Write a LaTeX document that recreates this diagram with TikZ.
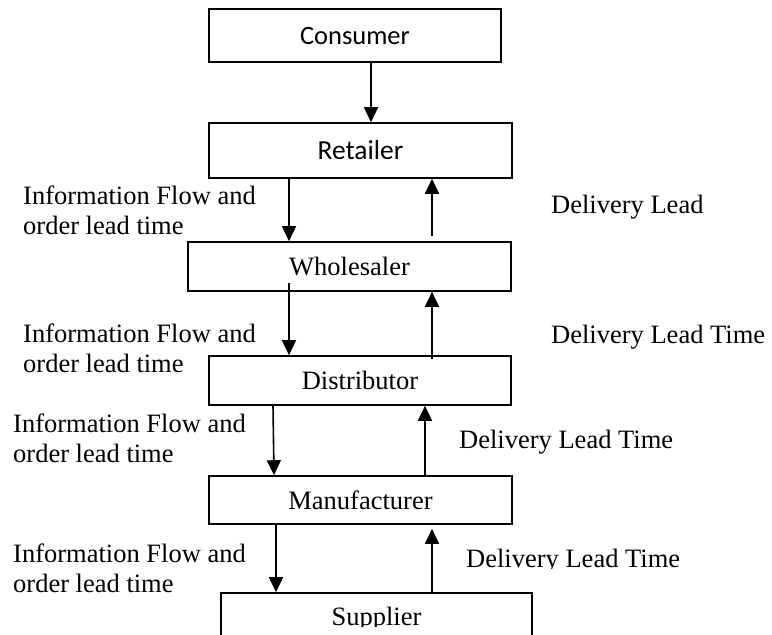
\documentclass[tikz,border=0pt]{standalone}
\usepackage{fontspec}
\setmainfont{Liberation Serif}
\newfontfamily\calibrifont{Carlito}
\usetikzlibrary{arrows.meta}

\begin{document}
\begin{tikzpicture}[x=1pt,y=-1pt,
  stage/.style={draw, line width=1.6pt, rectangle, inner sep=0pt,
    font=\fontsize{26.5}{30}\selectfont},
  flow/.style={line width=1.6pt, -{Triangle[width=14pt,length=15pt]}},
  note/.style={anchor=base west, inner sep=0pt, align=left,
    font=\fontsize{26.5}{29.5}\selectfont}]
\useasboundingbox (0,0) rectangle (772,635);

% supply chain stages
\node[stage, minimum width=292pt, minimum height=53pt,
      font=\calibrifont\fontsize{26.5}{30}\selectfont] (consumer) at (355,35.5) {Consumer};
\node[stage, minimum width=303pt, minimum height=55pt,
      font=\calibrifont\fontsize{27.5}{30}\selectfont] (retailer) at (360.5,150.5) {Retailer};
\node[stage, minimum width=323pt, minimum height=49pt] (wholesaler) at (349.5,266.5) {Wholesaler};
\node[stage, minimum width=302pt, minimum height=49pt] (distributor) at (360,380.5) {Distributor};
\node[stage, minimum width=303pt, minimum height=48pt] (manufacturer) at (360.5,500) {Manufacturer};
\node[stage, minimum width=311pt, minimum height=80pt] (supplier) at (376.5,633) {};
\begin{scope}
  \clip (0,0) rectangle (772,626);
  \node[anchor=base, inner sep=0pt, font=\fontsize{26.5}{30}\selectfont]
    (suppliertext) at (376.5,625) {Supplier};
\end{scope}

% x positions of the connectors
\coordinate (c371) at (371,0);
\coordinate (c289) at (289,0);
\coordinate (c432) at (432,0);
\coordinate (c273) at (273,0);
\coordinate (c274) at (274,0);
\coordinate (c425) at (425,0);
\coordinate (c276) at (276,0);

% orders flow down, deliveries flow up
\draw[flow] (consumer.south -| c371) -- (retailer.north -| c371);
\draw[flow] (retailer.south -| c289) -- (wholesaler.north -| c289);
\draw[flow, shorten <=5pt] (wholesaler.north -| c432) -- (retailer.south -| c432);
\draw[flow, shorten <=-9pt] (wholesaler.south -| c289) -- (distributor.north -| c289);
\draw[flow, shorten <=-4pt] (distributor.north -| c432) -- (wholesaler.south -| c432);
\draw[flow] (distributor.south -| c273) -- (manufacturer.north -| c274);
\draw[flow] (manufacturer.north -| c425) -- (distributor.south -| c425);
\draw[flow, shorten <=-2pt] (manufacturer.south -| c276) -- (supplier.north -| c276);
\draw[flow, shorten >=4pt] (supplier.north -| c432) -- (manufacturer.south -| c432);

% order side labels (anchored at the baseline of their last line)
\node[note] (info1) at (23,234) {Information Flow and\\order lead time};
\node[note] (info2) at (23,372) {Information Flow and\\order lead time};
\node[note] (info3) at (13,462) {Information Flow and\\order lead time};
\node[note] (info4) at (13,592) {Information Flow and\\order lead time};

% delivery side labels
\node[note] (lead1) at (551,213) {Delivery Lead};
\node[note] (lead2) at (551,343) {Delivery Lead Time};
\node[note] (lead3) at (459,448) {Delivery Lead Time};
\begin{scope}
  \clip (0,0) rectangle (772,568);
  \node[note] (lead4) at (466,567) {Delivery Lead Time};
\end{scope}
\end{tikzpicture}
\end{document}
